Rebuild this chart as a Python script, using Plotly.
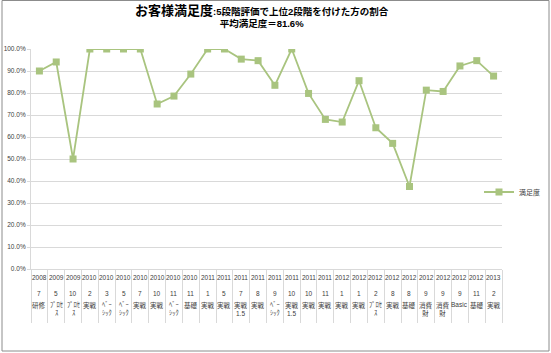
import plotly.graph_objects as go

years = ["2008", "2009", "2009", "2010", "2010", "2010", "2010", "2010", "2010", "2010",
         "2011", "2011", "2011", "2011", "2011", "2011", "2011", "2011",
         "2012", "2012", "2012", "2012", "2012", "2012", "2012", "2012", "2012", "2013"]
months = ["7", "5", "10", "2", "3", "5", "7", "10", "11", "11",
          "1", "5", "7", "8", "9", "10", "10", "11",
          "1", "1", "2", "8", "8", "9", "9", "9", "11", "2"]
courses = ["研修", "ﾌﾟﾛｾ<br>ｽ", "ﾌﾟﾛｾ<br>ｽ", "実戦", "ﾍﾞｰ<br>ｼｯｸ", "ﾍﾞｰ<br>ｼｯｸ", "実戦", "実戦", "ﾍﾞｰ<br>ｼｯｸ", "基礎",
           "実戦", "実戦", "実戦<br>1.5", "実戦", "ﾍﾞｰ<br>ｼｯｸ", "実戦<br>1.5", "実戦", "実戦",
           "実戦", "実戦", "ﾌﾟﾛｾ<br>ｽ", "実戦", "基礎", "消費<br>財", "消費<br>財", "Basic", "基礎", "実戦"]
satisfaction = [0.900, 0.941, 0.500, 1.000, 1.000, 1.000, 1.000, 0.750, 0.786, 0.886,
                1.000, 1.000, 0.954, 0.947, 0.835, 1.000, 0.798, 0.680,
                0.668, 0.856, 0.642, 0.571, 0.375, 0.813, 0.807, 0.923, 0.947, 0.877]

FONT = "Liberation Sans, Noto Sans CJK JP, sans-serif"
GREEN = "#A9C47F"
GRID = "#D9D9D9"

idx = list(range(len(satisfaction)))

fig = go.Figure()
fig.add_trace(go.Scatter(
    x=idx, y=satisfaction, mode="lines+markers", name="満足度",
    line=dict(color=GREEN, width=1.8),
    marker=dict(symbol="square", size=7, color=GREEN),
))

W, H = 551, 353
L, R, T, B = 31, 49, 49, 84
pw, ph = W - L - R, H - T - B

annotations = []
for i in idx:
    annotations.append(dict(x=i, y=0, xref="x", yref="paper", text=years[i], showarrow=False,
                            yanchor="middle", yshift=-8, font=dict(size=6.5, color="#404040", family=FONT)))
    annotations.append(dict(x=i, y=0, xref="x", yref="paper", text=months[i], showarrow=False,
                            yanchor="middle", yshift=-24, font=dict(size=6.5, color="#404040", family=FONT)))
    annotations.append(dict(x=i, y=0, xref="x", yref="paper", text=courses[i], showarrow=False,
                            yanchor="top", yshift=-30, font=dict(size=6.5, color="#404040", family=FONT)))

annotations.append(dict(
    x=(262 - L) / pw, y=1 + (T - 1) / ph, xref="paper", yref="paper", showarrow=False,
    xanchor="center", yanchor="top", align="center",
    text="<b><span style='font-size:13px'>お客様満足度</span>:5段階評価で上位2段階を付けた方の割合</b><br><b>平均満足度＝81.6%</b>",
    font=dict(size=9.5, color="#000000", family=FONT),
))

shapes = [dict(type="rect", xref="paper", yref="paper",
               x0=(2 - L) / pw, x1=(549 - L) / pw, y0=(T + ph - 351) / ph, y1=(T + ph - 0.5) / ph,
               line=dict(color="#8C8C8C", width=1), layer="below")]

fig.update_layout(
    width=W, height=H,
    margin=dict(l=L, r=R, t=T, b=B, autoexpand=False),
    paper_bgcolor="white", plot_bgcolor="white",
    font=dict(family=FONT, size=7, color="#404040"),
    showlegend=True,
    legend=dict(x=(479 - L) / pw, xanchor="left", y=(269 - 192) / ph, yanchor="middle",
                font=dict(size=7, color="#404040", family=FONT), itemwidth=30,
                bgcolor="rgba(0,0,0,0)", borderwidth=0),
    annotations=annotations,
    shapes=shapes,
    xaxis=dict(range=[-0.5, len(satisfaction) - 0.5], showgrid=False, zeroline=False,
               showticklabels=False, ticks="", showline=True, linecolor=GRID, linewidth=1,
               automargin=False,
               minor=dict(tickmode="linear", tick0=-0.5, dtick=1, ticks="outside",
                          ticklen=53, tickcolor=GRID, tickwidth=1, showgrid=False)),
    yaxis=dict(range=[0, 1], dtick=0.1, tick0=0, tickformat=".1%", showgrid=True, gridcolor=GRID,
               gridwidth=1, zeroline=False, showline=True, linecolor=GRID, linewidth=1,
               ticks="outside", ticklen=3, tickcolor=GRID, automargin=False,
               tickfont=dict(size=6.5, color="#404040", family=FONT)),
)

fig.write_html("out.html")
